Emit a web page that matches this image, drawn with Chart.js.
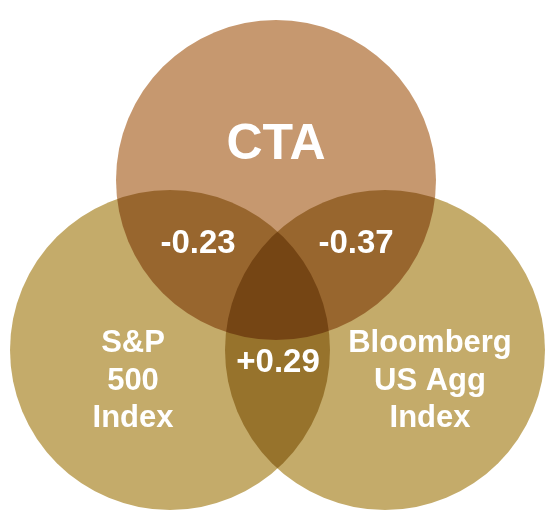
<!DOCTYPE html>
<html>
<head>
<meta charset="utf-8">
<script src="https://cdn.jsdelivr.net/npm/chart.js@4"></script>
<style>
  html, body { margin: 0; padding: 0; background: #fff; }
  #wrap { width: 559px; height: 525px; }
</style>
</head>
<body>
<div id="wrap"><canvas id="venn"></canvas></div>
<script>
// circles: names, centres (in chart units), radii
const sets = ['CTA', 'S&P 500 Index', 'Bloomberg US Agg Index'];
const centerX = [276, 170, 385];
const centerY = [180, 350, 350];
const radius = [160, 160, 160];
const fills = ['#C6986F', '#C4AB6A', '#C4AB6A'];

// text labels
const labelText = [['CTA'], ['S&P', '500', 'Index'], ['Bloomberg', 'US Agg', 'Index'],
  ['-0.23'], ['-0.37'], ['+0.29']];
const labelX = [276, 133, 430, 198, 356, 278];
const labelY = [145, 381, 381, 244, 244, 363];
const labelSize = [50, 31, 31, 33, 33, 33];

const multiply = {
  id: 'multiply',
  beforeDatasetsDraw(chart) { chart.ctx.save(); chart.ctx.globalCompositeOperation = 'multiply'; },
  afterDatasetsDraw(chart) { chart.ctx.restore(); }
};

const labels = {
  id: 'labels',
  afterDraw(chart) {
    const ctx = chart.ctx, xs = chart.scales.x, ys = chart.scales.y;
    ctx.save();
    ctx.fillStyle = '#fff';
    ctx.textAlign = 'center';
    ctx.textBaseline = 'middle';
    labelText.forEach((lines, i) => {
      ctx.font = 'bold ' + labelSize[i] + 'px "Liberation Sans", Arial, sans-serif';
      const lh = labelSize[i] * 1.22;
      const y0 = ys.getPixelForValue(labelY[i]) - (lines.length - 1) * lh / 2;
      lines.forEach((t, j) => ctx.fillText(t, xs.getPixelForValue(labelX[i]), y0 + j * lh));
    });
    ctx.restore();
  }
};

new Chart(document.getElementById('venn'), {
  type: 'bubble',
  data: {
    datasets: sets.map((s, i) => ({
      label: s,
      data: [{ x: centerX[i], y: centerY[i], r: radius[i] }],
      backgroundColor: fills[i],
      borderWidth: 0,
      hoverBorderWidth: 0,
      clip: false
    }))
  },
  options: {
    responsive: true,
    maintainAspectRatio: false,
    animation: false,
    layout: { padding: 0, autoPadding: false },
    plugins: { legend: { display: false }, tooltip: { enabled: false } },
    scales: {
      x: { type: 'linear', min: 0, max: 559, display: false },
      y: { type: 'linear', min: 0, max: 525, reverse: true, display: false }
    }
  },
  plugins: [multiply, labels]
});
</script>
</body>
</html>
